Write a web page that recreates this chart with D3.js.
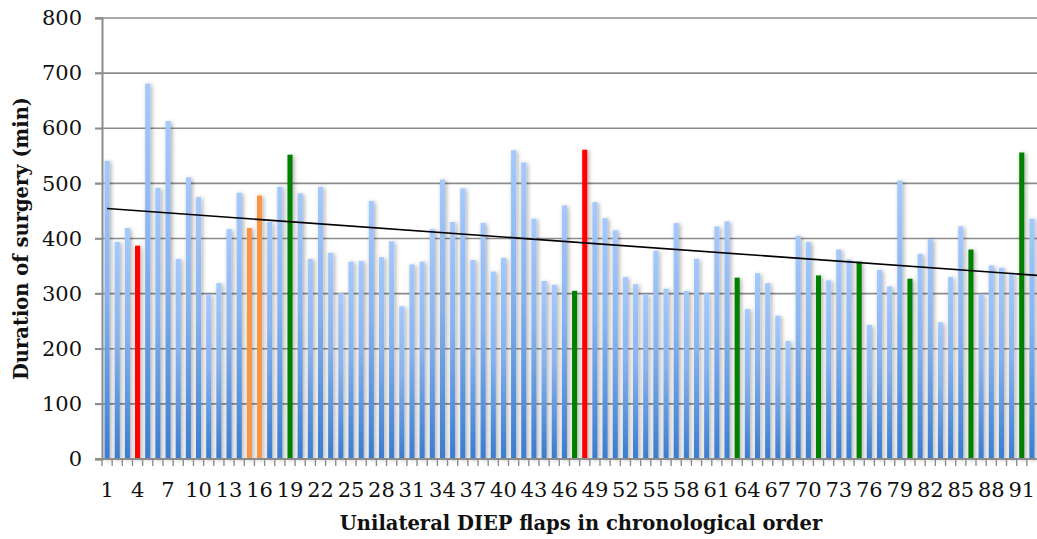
<!DOCTYPE html>
<html>
<head>
<meta charset="utf-8">
<script src="https://cdn.jsdelivr.net/npm/d3@7"></script>
<style>
  html, body { margin: 0; padding: 0; background: #fff; }
  svg { display: block; }
  text { font-family: "DejaVu Serif", "Liberation Serif", serif; fill: #111; }
</style>
</head>
<body>
<svg id="chart" width="1037" height="539"></svg>
<script>
// Operating time (minutes) for each unilateral DIEP flap, in chronological order
const durations = [
  541, 394, 419, 387, 681, 492, 613, 363, 511, 475,
  299, 319, 417, 483, 419, 478, 430, 494, 552, 482,
  363, 494, 374, 301, 358, 359, 468, 366, 395, 277,
  353, 358, 417, 507, 430, 491, 361, 428, 340, 365,
  560, 538, 436, 323, 316, 460, 305, 561, 466, 437,
  415, 330, 317, 299, 378, 309, 428, 305, 363, 301,
  422, 431, 329, 272, 337, 319, 260, 214, 405, 394,
  333, 324, 380, 362, 358, 243, 343, 313, 505, 327,
  372, 399, 248, 330, 422, 380, 299, 351, 347, 338,
  556, 436
];
const flapNumbers = durations.map((_, i) => i + 1);

// Flaps drawn in a highlight colour
const redFlaps = [4, 48];
const orangeFlaps = [15, 16];
const greenFlaps = [19, 47, 63, 71, 75, 80, 86, 91];

const yTicks = [0, 100, 200, 300, 400, 500, 600, 700, 800];
const xTickLabels = flapNumbers.filter(n => (n - 1) % 3 === 0);

const yTitle = "Duration of surgery (min)";
const xTitle = "Unilateral DIEP flaps in chronological order";

const svg = d3.select("#chart");
const margin = { left: 102, right: 0, top: 18, bottom: 80 };
const W = 1037, H = 539;
const plotBottom = H - margin.bottom; // 459

const x = d3.scaleBand()
  .domain(flapNumbers)
  .range([margin.left, W - margin.right])
  .paddingInner(0.5)
  .paddingOuter(0.25);

const y = d3.scaleLinear()
  .domain([0, 800])
  .range([plotBottom, margin.top]);

const defs = svg.append("defs");
const grad = defs.append("linearGradient")
  .attr("id", "barBlue")
  .attr("x1", 0).attr("y1", 0).attr("x2", 0).attr("y2", 1);
grad.append("stop").attr("offset", "0%").attr("stop-color", "#a5c9fb");
grad.append("stop").attr("offset", "45%").attr("stop-color", "#88b3ee");
grad.append("stop").attr("offset", "100%").attr("stop-color", "#3a7ccf");

const shadow = defs.append("filter")
  .attr("id", "barShadow")
  .attr("x", "-50%").attr("y", "-10%").attr("width", "200%").attr("height", "120%");
shadow.append("feDropShadow")
  .attr("dx", 1.5).attr("dy", 1)
  .attr("stdDeviation", 2.2)
  .attr("flood-color", "#000")
  .attr("flood-opacity", 0.34);

// Horizontal gridlines
svg.append("g")
  .selectAll("line")
  .data(yTicks.filter(d => d > 0))
  .join("line")
  .attr("x1", margin.left - 7)
  .attr("x2", W)
  .attr("y1", d => y(d))
  .attr("y2", d => y(d))
  .attr("stroke", "#8c8c8c")
  .attr("stroke-width", 1.6);

function barColor(n) {
  if (redFlaps.includes(n)) return "#ff0000";
  if (orangeFlaps.includes(n)) return "#f79646";
  if (greenFlaps.includes(n)) return "#008000";
  return "url(#barBlue)";
}

// Bars
svg.append("g")
  .attr("filter", "url(#barShadow)")
  .selectAll("rect")
  .data(durations)
  .join("rect")
  .attr("x", (d, i) => x(flapNumbers[i]))
  .attr("width", x.bandwidth())
  .attr("y", d => y(d))
  .attr("height", d => y(0) - y(d))
  .attr("fill", (d, i) => barColor(flapNumbers[i]));

// Linear trend line (least squares over flap number)
const n = durations.length;
const mx = d3.mean(flapNumbers), my = d3.mean(durations);
const slope = d3.sum(flapNumbers, (v, i) => (v - mx) * (durations[i] - my)) /
              d3.sum(flapNumbers, v => (v - mx) * (v - mx));
const intercept = my - slope * mx;
const trendX = d3.scaleLinear()
  .domain([1, n])
  .range([x(1) + x.bandwidth() / 2, x(n) + x.bandwidth() / 2]);
svg.append("line")
  .attr("x1", trendX(1))
  .attr("y1", y(intercept + slope * 1))
  .attr("x2", W)
  .attr("y2", y(intercept + slope * trendX.invert(W)))
  .attr("stroke", "#000")
  .attr("stroke-width", 1.6);

// Y axis
const yAxis = svg.append("g")
  .attr("transform", `translate(${margin.left},0)`)
  .call(d3.axisLeft(y).tickValues(yTicks).tickSize(7).tickPadding(13));
yAxis.select(".domain").attr("stroke", "#8c8c8c").attr("stroke-width", 2);
yAxis.selectAll(".tick line").attr("stroke", "#8c8c8c").attr("stroke-width", 1.6);
yAxis.selectAll(".tick text")
  .style("font-family", '"DejaVu Serif", serif')
  .style("font-size", "21px")
  .attr("fill", "#111");

// X axis: baseline with a tick at each category boundary
const xAxisG = svg.append("g");
xAxisG.append("line")
  .attr("x1", margin.left - 7).attr("x2", W)
  .attr("y1", y(0)).attr("y2", y(0))
  .attr("stroke", "#8c8c8c").attr("stroke-width", 2);
const step = x.step();
xAxisG.selectAll("line.tk")
  .data(flapNumbers)
  .join("line")
  .attr("class", "tk")
  .attr("x1", d => x(d) - (step - x.bandwidth()) / 2)
  .attr("x2", d => x(d) - (step - x.bandwidth()) / 2)
  .attr("y1", y(0))
  .attr("y2", y(0) + 7)
  .attr("stroke", "#8c8c8c")
  .attr("stroke-width", 1.4);
xAxisG.selectAll("text")
  .data(xTickLabels)
  .join("text")
  .attr("x", d => x(d) + x.bandwidth() / 2)
  .attr("y", y(0) + 38)
  .attr("text-anchor", "middle")
  .style("font-size", "21px")
  .text(d => d);

// Axis titles
svg.append("text")
  .attr("transform", `translate(28, ${(y(0) + y(800)) / 2}) rotate(-90)`)
  .attr("text-anchor", "middle")
  .style("font-size", "19.5px")
  .style("font-weight", "bold")
  .text(yTitle);

svg.append("text")
  .attr("x", 581)
  .attr("y", 530)
  .attr("text-anchor", "middle")
  .style("font-size", "19.5px")
  .style("font-weight", "bold")
  .text(xTitle);
</script>
</body>
</html>
